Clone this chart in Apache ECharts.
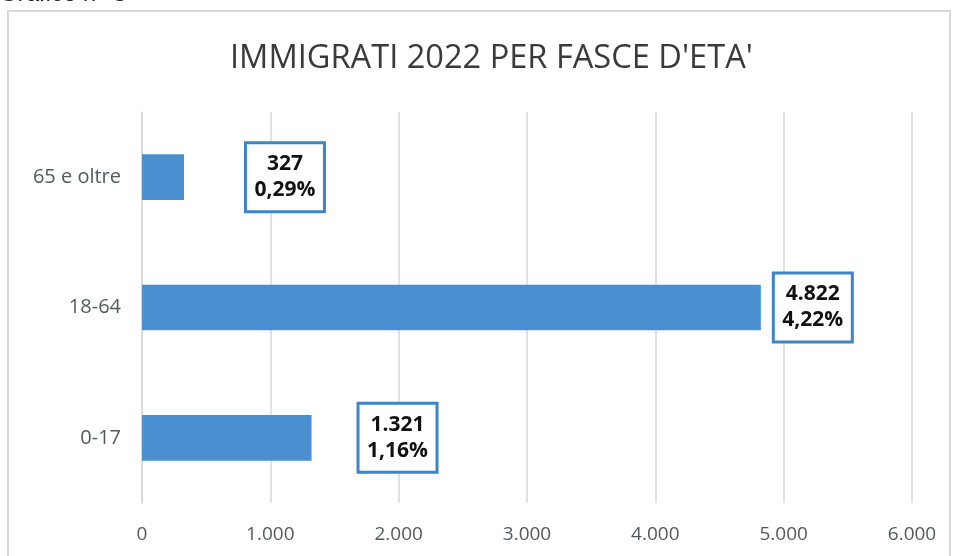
<!DOCTYPE html>
<html>
<head>
<meta charset="utf-8">
<script src="https://cdn.jsdelivr.net/npm/echarts@6/dist/echarts.min.js"></script>
<style>
html,body{margin:0;padding:0;background:#fff;}
#c{width:955px;height:556px;}
</style>
</head>
<body>
<div id="c"></div>
<script>
var categories = ['0-17', '18-64', '65 e oltre'];
var values = [1321, 4822, 327];
var percents = ['1,16%', '4,22%', '0,29%'];
var xTicks = [0, 1000, 2000, 3000, 4000, 5000, 6000];
var titleText = "IMMIGRATI 2022 PER FASCE D'ETA'";
var captionText = 'Grafico n° 5';

function fmt(n) {
  return String(n).replace(/\B(?=(\d{3})+(?!\d))/g, '.');
}

var labelDistances = [86, 52, 101];

var data = values.map(function (v, i) {
  return {
    value: v,
    label: { distance: labelDistances[i] }
  };
});

var chart = echarts.init(document.getElementById('c'), null, { renderer: 'canvas' });
chart.setOption({
  animation: false,
  backgroundColor: '#ffffff',
  title: {
    text: titleText,
    left: 225,
    top: 37,
    textStyle: {
      fontFamily: 'Open Sans',
      fontSize: 32.6,
      fontWeight: 'normal',
      color: '#3a3a3a'
    }
  },
  graphic: [
    {
      type: 'rect',
      shape: { x: 8, y: 11, width: 942, height: 560 },
      style: { fill: 'none', stroke: '#d9d9d9', lineWidth: 2 }
    },
    {
      type: 'text',
      x: 0,
      y: 6,
      style: {
        text: captionText,
        font: 'italic 24px "Liberation Sans"',
        fill: '#222',
        verticalAlign: 'bottom'
      }
    }
  ],
  grid: { left: 142, right: 43, top: 112, bottom: 53 },
  xAxis: {
    type: 'value',
    min: xTicks[0],
    max: xTicks[xTicks.length - 1],
    interval: 1000,
    axisLine: { show: false },
    axisTick: { show: false },
    splitLine: { lineStyle: { color: '#d9d9d9', width: 1.5 } },
    axisLabel: {
      margin: 22,
      color: '#55595e',
      fontFamily: 'Open Sans',
      fontSize: 19,
      formatter: function (v) { return fmt(v); }
    }
  },
  yAxis: {
    type: 'category',
    data: categories,
    axisLine: { show: true, lineStyle: { color: '#d9d9d9', width: 1.5 } },
    axisTick: { show: false },
    axisLabel: {
      margin: 21,
      color: '#55595e',
      fontFamily: 'Open Sans',
      fontSize: 20
    }
  },
  series: [{
    type: 'bar',
    data: data,
    barCategoryGap: '65%',
    itemStyle: { color: '#4a8fd0' },
    label: {
      show: true,
      position: 'right',
      formatter: function (p) {
        return fmt(p.value) + '\n' + percents[p.dataIndex];
      },
      fontFamily: 'Open Sans',
      fontWeight: 'bold',
      fontSize: 21,
      lineHeight: 26,
      color: '#111',
      align: 'center',
      backgroundColor: '#ffffff',
      borderColor: '#3d85c6',
      borderWidth: 3,
      padding: [8, 5, 6, 5],
      width: 66
    }
  }]
});
</script>
</body>
</html>
